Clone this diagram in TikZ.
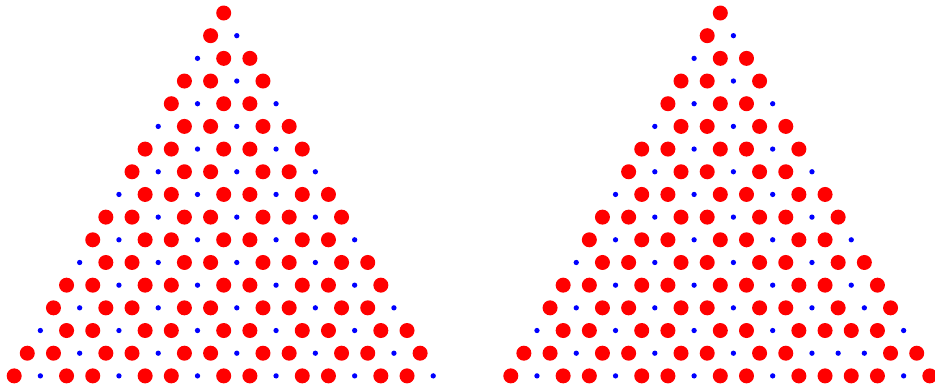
\documentclass[tikz,border=0pt]{standalone}
\definecolor{dotred}{RGB}{255,0,0}
\definecolor{dotblue}{RGB}{0,0,255}
\begin{document}
\begin{tikzpicture}[x=1pt,y=-1pt,
  dot1/.style={circle,fill=dotred,draw=none,inner sep=0pt,minimum size=15pt},
  dot0/.style={circle,fill=dotblue,draw=none,inner sep=0pt,minimum size=5.3pt}]
\useasboundingbox (0,0) rectangle (935,388);
% left triangle
\foreach \row [count=\n from 0] in {
  {1},
  {1,0},
  {0,1,1},
  {1,1,0,1},
  {1,0,1,1,0},
  {0,1,1,0,1,1},
  {1,1,0,1,1,0,1},
  {1,0,1,1,0,1,1,0},
  {0,1,1,0,1,1,0,1,1},
  {1,1,0,1,1,0,1,1,0,1},
  {1,0,1,1,0,1,1,0,1,1,0},
  {0,1,1,0,1,1,0,1,1,0,1,1},
  {1,1,0,1,1,0,1,1,0,1,1,0,1},
  {1,0,1,1,0,1,1,0,1,1,0,1,1,0},
  {0,1,1,0,1,1,0,1,1,0,1,1,0,1,1},
  {1,1,0,1,1,0,1,1,0,1,1,0,1,1,0,1},
  {1,0,1,1,0,1,1,0,1,1,0,1,1,0,1,1,0}} {
  \foreach \v [count=\k from 0] in \row {
    \node[dot\v] (L-\n-\k) at ({223.7+(2*\k-\n)*13.095}, {13+\n*22.68}) {};
  }
}
% right triangle
\foreach \row [count=\n from 0] in {
  {1},
  {1,0},
  {0,1,1},
  {1,1,0,1},
  {1,0,1,1,0},
  {0,1,1,0,1,1},
  {1,1,0,1,1,0,1},
  {1,0,1,1,0,1,1,0},
  {0,1,1,0,1,1,0,1,1},
  {1,1,0,1,1,0,1,1,0,1},
  {1,0,1,1,0,1,1,0,1,1,0},
  {0,1,1,0,1,1,0,1,1,0,1,1},
  {1,1,0,1,1,0,1,1,0,1,1,0,1},
  {1,0,1,1,0,1,1,0,1,1,0,1,0,1},
  {0,1,1,0,1,1,0,1,1,0,1,1,1,1,0},
  {1,1,0,1,1,0,1,1,0,1,1,0,0,0,1,1},
  {1,0,1,1,0,1,1,0,1,1,0,1,1,1,1,0,1}} {
  \foreach \v [count=\k from 0] in \row {
    \node[dot\v] (R-\n-\k) at ({720.3+(2*\k-\n)*13.095}, {13+\n*22.68}) {};
  }
}
\end{tikzpicture}
\end{document}
